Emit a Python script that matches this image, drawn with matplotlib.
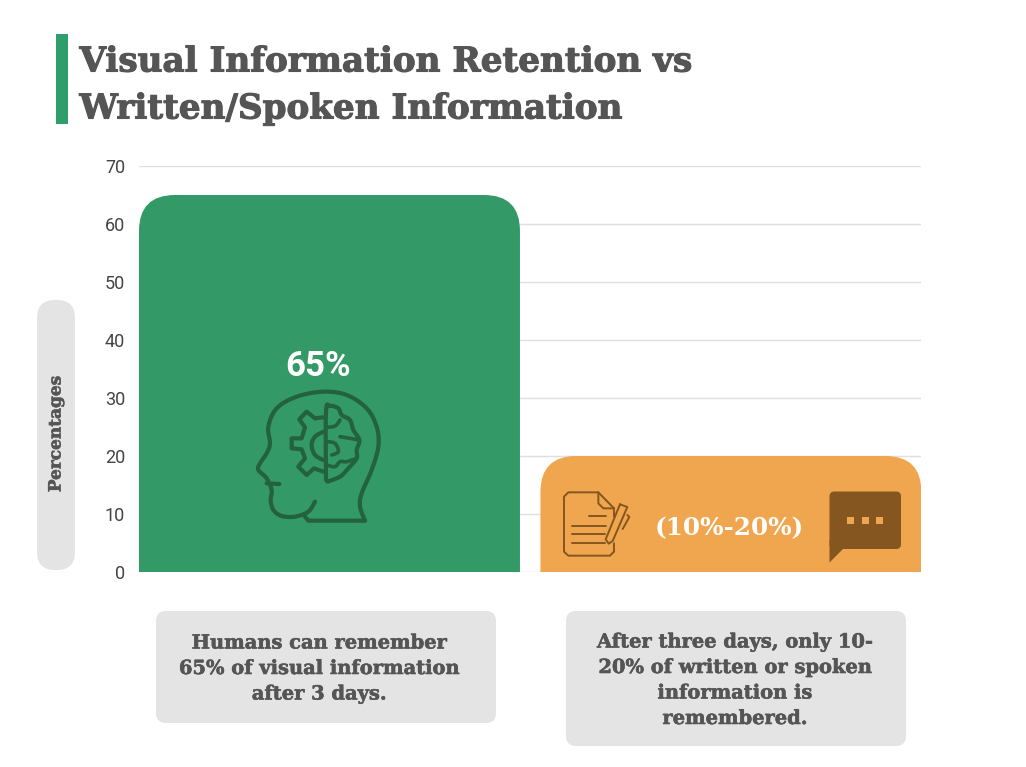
import numpy as np
import matplotlib
matplotlib.use("Agg")
import matplotlib.pyplot as plt
import matplotlib.patheffects as pe
from matplotlib.path import Path
from matplotlib.patches import PathPatch, FancyBboxPatch, Polygon, Rectangle

W, H = 1026, 767
categories = ["Visual", "Written/Spoken"]
values = [65, 20]
bar_colors = ["#339966", "#F0A54F"]
yticks = [0, 10, 20, 30, 40, 50, 60, 70]
title_lines = ["Visual Information Retention vs", "Written/Spoken Information"]
y_label = "Percentages"
note_left = ["Humans can remember", "65% of visual information", "after 3 days."]
note_right = ["After three days, only 10-", "20% of written or spoken", "information is", "remembered."]
label_left = "65%"
label_right = "(10%-20%)"

SERIF = "DejaVu Serif"
GREY = "#555555"
BOX = "#E4E4E4"

fig = plt.figure(figsize=(W / 100, H / 100), dpi=100, facecolor="white")


def heavy(color, lw):
    return [pe.withStroke(linewidth=lw, foreground=color)]


# main chart
L, R, T, B = 139, 921, 166, 572
ax = fig.add_axes([L / W, 1 - B / H, (R - L) / W, (B - T) / H])
ax.set_xlim(-0.4745, 1.4735)
ax.set_ylim(0, 70)
ax.set_yticks(yticks)
ax.set_xticks([])
ax.grid(axis="y", color="#DFDFDF", lw=1)
ax.set_axisbelow(True)
for s in ax.spines.values():
    s.set_visible(False)
ax.tick_params(axis="y", length=0, pad=10, labelsize=13, labelcolor="#444444")
for t in ax.get_yticklabels():
    t.set_fontfamily("Roboto")

bars = ax.bar(range(len(values)), values, width=0.949, color=bar_colors, linewidth=0, zorder=2)

# round the top corners of each bar
px_x = 1.948 / (R - L)
px_y = 70 / (B - T)
rad = 36
for b in bars:
    x0, x1 = b.get_x(), b.get_x() + b.get_width()
    y1 = b.get_height()
    rx, ry = rad * px_x, rad * px_y
    verts = [(x0, 0), (x0, y1 - ry), (x0, y1), (x0 + rx, y1), (x1 - rx, y1),
             (x1, y1), (x1, y1 - ry), (x1, 0), (x0, 0)]
    codes = [Path.MOVETO, Path.LINETO, Path.CURVE3, Path.CURVE3, Path.LINETO,
             Path.CURVE3, Path.CURVE3, Path.LINETO, Path.CLOSEPOLY]
    b.set_clip_path(PathPatch(Path(verts, codes), transform=ax.transData))

# overlay in pixel coordinates for the decoration
ov = fig.add_axes([0, 0, 1, 1], facecolor="none")
ov.set_xlim(0, W)
ov.set_ylim(H, 0)
ov.axis("off")


def rbox(x0, y0, x1, y1, r, color):
    ov.add_patch(FancyBboxPatch((x0 + r, y0 + r), x1 - x0 - 2 * r, y1 - y0 - 2 * r,
                                boxstyle=f"round,pad={r},rounding_size={r}",
                                fc=color, ec="none"))


ov.add_patch(Rectangle((56, 34), 12, 90, fc="#2F9E6B", ec="none"))
for i, line in enumerate(title_lines):
    ov.text(79.5, 62 + 47 * i, line, family=SERIF, weight="bold", fontsize=24.6,
            color=GREY, va="center", ha="left", path_effects=heavy(GREY, 0.8))

rbox(37, 300, 75, 570, 18, BOX)
ov.text(56, 434, y_label, rotation=90, family=SERIF, weight="bold", fontsize=12.2,
        color=GREY, ha="center", va="center", path_effects=heavy(GREY, 0.4))

rbox(156, 611, 496, 723, 10, BOX)
rbox(566, 611, 906, 746, 10, BOX)
for i, line in enumerate(note_left):
    ov.text(319.5, 643.5 + 25.5 * i, line, family=SERIF, weight="bold", fontsize=14,
            color=GREY, ha="center", va="center", path_effects=heavy(GREY, 0.4))
for i, line in enumerate(note_right):
    ov.text(735, 642.5 + 25.5 * i, line, family=SERIF, weight="bold", fontsize=14,
            color=GREY, ha="center", va="center", path_effects=heavy(GREY, 0.4))

ov.text(318, 367, label_left, family="Roboto", weight="bold", fontsize=25, color="white",
        ha="center", va="center")
ov.text(729, 528, label_right, family=SERIF, weight="bold", fontsize=17.7, color="white",
        ha="center", va="center")


def stroke(pts, ox, oy, color, lw, smooth=False):
    p = np.asarray(pts, float) / 3 + (ox, oy)
    if smooth and len(p) > 2:
        # Catmull-Rom through the traced points
        out = []
        q = np.vstack([p[0], p, p[-1]])
        for a, b, c, d in zip(q[:-3], q[1:-2], q[2:-1], q[3:]):
            for t in np.linspace(0, 1, 8, endpoint=False):
                out.append(0.5 * (2 * b + (c - a) * t + (2 * a - 5 * b + 4 * c - d) * t ** 2
                                  + (3 * b - a - 3 * c + d) * t ** 3))
        out.append(p[-1])
        p = np.array(out)
    ov.plot(p[:, 0], p[:, 1], color=color, lw=lw, solid_capstyle="round",
            solid_joinstyle="round")


# head icon
HC = "#23613F"
ox, oy = 240, 340
stroke([(225, 485), (205, 515), (165, 530), (125, 528), (100, 510), (92, 480), (95, 450),
        (80, 415), (55, 390), (60, 370), (80, 340), (90, 310), (85, 260), (110, 205),
        (170, 170), (250, 155), (320, 165), (380, 205), (410, 260), (415, 320), (395, 390),
        (365, 460), (360, 500), (375, 542)], ox, oy, HC, 3, True)
stroke([(375, 542), (205, 542), (195, 530)], ox, oy, HC, 3)
stroke([(80, 430), (118, 432)], ox, oy, HC, 3)
stroke([(250, 232), (225, 235), (200, 215), (178, 238), (195, 262), (185, 295), (155, 295),
        (155, 325), (185, 328), (195, 355), (175, 380), (200, 405), (222, 385), (250, 395)],
       ox, oy, HC, 3)
stroke([(250, 275), (225, 290), (215, 315), (225, 345), (250, 360)], ox, oy, HC, 3, True)
stroke([(258, 420), (258, 215), (270, 198), (295, 205), (305, 225), (330, 240), (340, 270),
        (358, 300), (350, 330), (350, 355), (325, 385), (300, 410), (262, 425)],
       ox, oy, HC, 3, True)
stroke([(258, 262), (285, 258), (300, 240)], ox, oy, HC, 2.6, True)
stroke([(300, 290), (330, 295), (356, 300)], ox, oy, HC, 2.6, True)
stroke([(260, 305), (285, 310), (295, 335), (275, 345)], ox, oy, HC, 2.6, True)
stroke([(260, 375), (285, 380), (300, 365), (320, 365), (350, 355)], ox, oy, HC, 2.6, True)

# document icon
DC = "#85561F"
ox, oy = 540, 455
stroke([(222, 265), (222, 290), (210, 302), (85, 302), (72, 290), (72, 125), (85, 112),
        (175, 112), (222, 160), (222, 185)], ox, oy, DC, 1.4)
stroke([(175, 112), (175, 145), (190, 160), (222, 160)], ox, oy, DC, 1.4)
stroke([(148, 183), (198, 183)], ox, oy, DC, 1.4)
stroke([(97, 212), (198, 212)], ox, oy, DC, 1.4)
stroke([(97, 238), (195, 238)], ox, oy, DC, 1.4)
stroke([(97, 265), (195, 265)], ox, oy, DC, 1.4)
stroke([(240, 148), (262, 156), (218, 258), (206, 266), (197, 253), (240, 148)], ox, oy, DC, 1.4)
stroke([(262, 180), (268, 186), (248, 222)], ox, oy, DC, 1.4)

# speech bubble icon
rbox(829.5, 491.5, 901, 549, 5, DC)
ov.add_patch(Polygon([(829.5, 540), (829.5, 562.5), (843, 549), (843, 540)], fc=DC, ec="none"))
for dx in (920, 965, 1008):
    ov.add_patch(Rectangle((540 + dx / 3, 455 + 185 / 3), 22 / 3, 22 / 3, fc="#F0A54F", ec="none"))

fig.savefig("out.png", dpi=100, facecolor="white")
